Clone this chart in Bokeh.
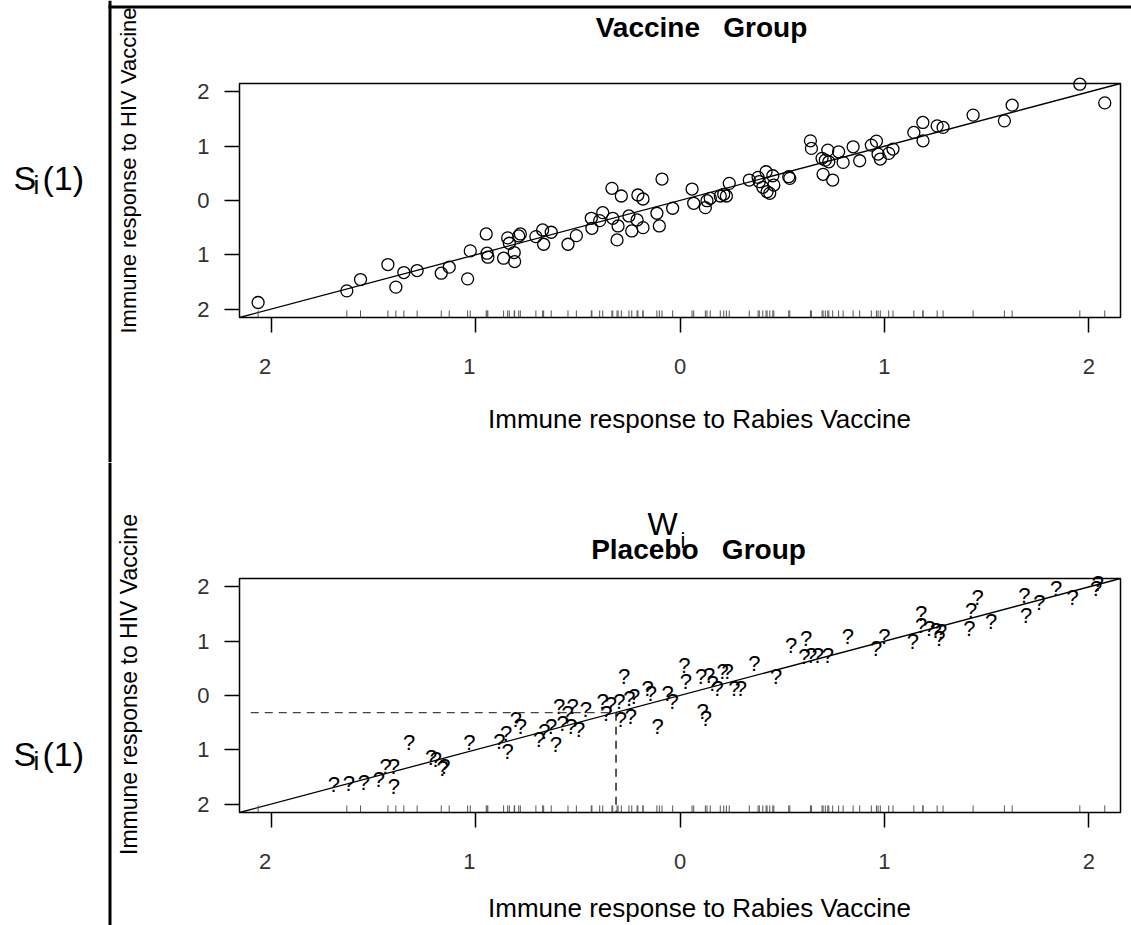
import math
from bokeh.plotting import figure
from bokeh.layouts import column
from bokeh.models import Range1d, Label, BoxAnnotation, FixedTicker, LinearAxis, ColumnDataSource
from bokeh.core.properties import value
from bokeh.embed import file_html
from bokeh.resources import INLINE

# Vaccine group: immune response to rabies vaccine (W) and to HIV vaccine (S(1))
vacc_w = [-2.064, -1.630, -1.563, -1.429, -1.390, -1.351, -1.286, -1.168, -1.129, -1.039,
          -1.026, -0.948, -0.944, -0.940, -0.863, -0.843, -0.835, -0.811, -0.809, -0.789,
          -0.781, -0.705, -0.672, -0.667, -0.630, -0.548, -0.507, -0.434, -0.431, -0.393,
          -0.378, -0.333, -0.329, -0.308, -0.303, -0.287, -0.250, -0.236, -0.210, -0.206,
          -0.181, -0.181, -0.113, -0.101, -0.088, -0.036, 0.059, 0.067, 0.124, 0.132,
          0.148, 0.197, 0.214, 0.227, 0.241, 0.339, 0.382, 0.388, 0.405, 0.421,
          0.426, 0.439, 0.454, 0.459, 0.532, 0.537, 0.638, 0.643, 0.695, 0.700,
          0.711, 0.723, 0.728, 0.747, 0.776, 0.798, 0.847, 0.879, 0.936, 0.961,
          0.969, 0.980, 1.021, 1.042, 1.144, 1.188, 1.189, 1.258, 1.287, 1.434,
          1.587, 1.625, 1.956, 2.078]
vacc_s = [-1.879, -1.664, -1.456, -1.180, -1.596, -1.327, -1.290, -1.339, -1.228, -1.443,
          -0.928, -0.616, -0.971, -1.044, -1.063, -0.689, -0.787, -0.959, -1.125, -0.653,
          -0.616, -0.665, -0.542, -0.806, -0.585, -0.806, -0.647, -0.328, -0.512, -0.371,
          -0.224, 0.224, -0.328, -0.726, -0.469, 0.083, -0.285, -0.561, -0.358, 0.101,
          0.028, -0.500, -0.235, -0.469, 0.395, -0.143, 0.211, -0.052, -0.132, -0.004,
          0.040, 0.083, 0.114, 0.083, 0.316, 0.377, 0.426, 0.346, 0.243, 0.530,
          0.162, 0.132, 0.456, 0.285, 0.438, 0.408, 1.099, 0.960, 0.776, 0.482,
          0.744, 0.928, 0.713, 0.377, 0.897, 0.702, 0.989, 0.732, 1.020, 1.094,
          0.855, 0.763, 0.868, 0.947, 1.254, 1.438, 1.099, 1.375, 1.346, 1.572,
          1.467, 1.756, 2.142, 1.798]

# Placebo group: observed W, with the unobserved S(1) shown as "?"
plac_w = [-1.693, -1.620, -1.546, -1.473, -1.440, -1.400, -1.400, -1.325, -1.218, -1.194,
          -1.161, -1.153, -1.031, -0.884, -0.851, -0.843, -0.803, -0.778, -0.689, -0.664,
          -0.631, -0.607, -0.591, -0.574, -0.550, -0.525, -0.533, -0.493, -0.460, -0.378,
          -0.360, -0.338, -0.297, -0.289, -0.273, -0.248, -0.240, -0.224, -0.158, -0.142,
          -0.109, -0.060, -0.036, 0.021, 0.029, 0.103, 0.111, 0.127, 0.143, 0.160,
          0.184, 0.209, 0.233, 0.266, 0.298, 0.364, 0.470, 0.543, 0.617, 0.608,
          0.641, 0.674, 0.723, 0.821, 0.959, 1.000, 1.139, 1.179, 1.179, 1.220,
          1.252, 1.269, 1.277, 1.416, 1.424, 1.456, 1.522, 1.685, 1.693, 1.758,
          1.840, 1.921, 2.036, 2.044]
plac_s = [-1.640, -1.620, -1.600, -1.550, -1.310, -1.300, -1.680, -0.866, -1.134, -1.170,
          -1.336, -1.300, -0.866, -0.848, -0.694, -1.030, -0.450, -0.572, -0.817, -0.664,
          -0.572, -0.908, -0.205, -0.510, -0.327, -0.205, -0.572, -0.633, -0.266, -0.113,
          -0.327, -0.174, -0.113, -0.450, 0.345, -0.052, -0.389, -0.022, 0.132, 0.040,
          -0.572, 0.040, -0.113, 0.560, 0.253, 0.345, -0.297, -0.419, 0.376, 0.224,
          0.132, 0.437, 0.437, 0.132, 0.132, 0.591, 0.345, 0.927, 1.050, 0.712,
          0.743, 0.743, 0.743, 1.079, 0.866, 1.079, 0.987, 1.508, 1.294, 1.233,
          1.202, 1.050, 1.171, 1.233, 1.569, 1.813, 1.354, 1.844, 1.477, 1.721,
          1.967, 1.813, 1.967, 2.059]

# Highlighted placebo subject (W_i and its imputed S_i(1))
example_w = -0.313
example_s = -0.316

tick_values = [-2, -1, 0, 1, 2]
# the minus sign is not printed, but its width still shifts the digit
tick_labels = ["2\u2007", "1\u2007", "0", "1", "2"]
ytick_labels = ["2", "1", "0", "1", "2"]

# data limits of each scatter box
LO, HI = -2.155, 2.155
SANS = "Liberation Sans"
PAGE_W = 1131

# pixel geometry of the scatter box inside each canvas
BOX_LEFT, BOX_RIGHT = 239, 1120
BOX_H = 234


def make_panel(height, box_top):
    """Canvas-wide frame; the scatter box is placed via the data ranges."""
    xs = (BOX_RIGHT - BOX_LEFT) / (HI - LO)
    ys = BOX_H / (HI - LO)
    box_bottom = box_top + BOX_H
    x_range = Range1d(LO - BOX_LEFT / xs, HI + (PAGE_W - BOX_RIGHT) / xs)
    y_range = Range1d(LO - (height - box_bottom) / ys, HI + box_top / ys)
    p = figure(width=PAGE_W, height=height, x_range=x_range, y_range=y_range,
               x_axis_type=None, y_axis_type=None, min_border=0,
               output_backend="svg", toolbar_location=None)
    p.grid.visible = False
    p.outline_line_color = None

    xa = LinearAxis(fixed_location=LO)
    ya = LinearAxis(fixed_location=LO)
    for ax, labels in ((xa, tick_labels), (ya, ytick_labels)):
        ax.ticker = FixedTicker(ticks=tick_values)
        ax.major_label_overrides = {float(v): t for v, t in zip(tick_values, labels)}
        ax.minor_tick_line_color = None
        ax.axis_line_color = None
        ax.major_tick_in = 0
        ax.major_tick_out = 15
        ax.major_tick_line_color = "black"
        ax.major_tick_line_width = 1.5
        ax.major_label_text_font = SANS
        ax.major_label_text_font_size = "22px"
        ax.major_label_text_color = "#333333"
    xa.major_label_standoff = 21
    ya.major_label_standoff = 15
    p.add_layout(xa, "below")
    p.add_layout(ya, "left")

    # box around the scatter region
    p.add_layout(BoxAnnotation(left=LO, right=HI, bottom=LO, top=HI, fill_color=None,
                               line_color="black", line_alpha=1.0, line_width=1.5))
    # identity line
    p.line(x=[LO, HI], y=[LO, HI], line_color="black", line_width=1.3)
    # rug of rabies-vaccine responses along the bottom
    rug_len = 0.13
    p.segment(x0=vacc_w, y0=[LO] * len(vacc_w), x1=vacc_w, y1=[LO + rug_len] * len(vacc_w),
              line_color="#555555", line_width=1)
    return p


def add_text(p, height, px, py, text, size, bold=False, align="left", angle=0.0,
             font=SANS, color="black"):
    """Text whose vertical middle sits at page row py."""
    p.add_layout(Label(x=px, y=height - py, x_units="screen", y_units="screen",
                       text=text, text_font=font, text_font_size=f"{size}px",
                       text_font_style="bold" if bold else "normal", text_align=align,
                       text_baseline="middle", angle=angle, text_color=color))


def add_bar(p, height, left, right, top, bottom):
    p.add_layout(BoxAnnotation(left=left, right=right, top=height - top, bottom=height - bottom,
                               left_units="screen", right_units="screen",
                               top_units="screen", bottom_units="screen",
                               fill_color="black", fill_alpha=1.0, line_color=None))


def add_si1(p, height, mid):
    add_text(p, height, 13, mid, "S", 34)
    add_text(p, height, 33, mid + 7, "i", 26)
    add_text(p, height, 42, mid, "(1)", 34)


GAP = "\u00a0\u00a0\u00a0"

# ---- Vaccine group ----
H1 = 462
p1 = make_panel(H1, 83)
p1.scatter(vacc_w, vacc_s, marker="circle", size=12, fill_color=None,
           line_color="black", line_width=1.3)
add_text(p1, H1, 701, 27, "Vaccine" + GAP + "Group", 28, bold=True, align="center")
add_text(p1, H1, 699, 418, "Immune response to Rabies Vaccine", 26, align="center")
add_text(p1, H1, 128, 170, "Immune response to HIV Vaccine", 22, align="center",
         angle=math.pi / 2)
add_si1(p1, H1, 177)
add_bar(p1, H1, 108, 111, 0, H1)
add_bar(p1, H1, 108, PAGE_W, 5, 8)

# ---- Placebo group ----
H2 = 463
off = H1
p2 = make_panel(H2, 116)
src = ColumnDataSource(dict(x=plac_w, y=plac_s, t=["?"] * len(plac_w)))
p2.text(x="x", y="y", text="t", source=src, text_font=value(SANS), text_font_size="22px",
        text_align="center", text_baseline="middle", text_color="black")
p2.segment(x0=[-2.1], y0=[example_s], x1=[example_w], y1=[example_s],
           line_color="#444444", line_width=1.3, line_dash="8 6")
p2.segment(x0=[example_w], y0=[example_s], x1=[example_w], y1=[LO],
           line_color="black", line_width=1.3, line_dash="8 6")
add_text(p2, H2, 698, 549 - off, "Placebo" + GAP + "Group", 28, bold=True, align="center")
add_text(p2, H2, 647, 523 - off, "W", 32)
add_text(p2, H2, 680, 540 - off, "i", 22)
add_text(p2, H2, 699, 907 - off, "Immune response to Rabies Vaccine", 26, align="center")
add_text(p2, H2, 128, 684 - off, "Immune response to HIV Vaccine", 23, align="center",
         angle=math.pi / 2)
add_si1(p2, H2, 753 - off)
add_bar(p2, H2, 108, 111, 0, H2)

layout = column(p1, p2, spacing=0)
open("out.html", "w").write(file_html(layout, INLINE))
